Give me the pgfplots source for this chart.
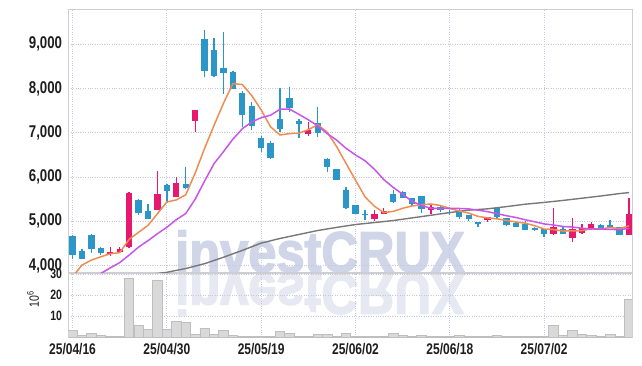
\documentclass[border=0pt]{standalone}
\usepackage{pgfplots}
\pgfplotsset{compat=1.18}
\usepackage{pgfplotstable}
\usepackage{fontspec}
\setmainfont{Liberation Sans}[FakeStretch=0.78]
\newfontfamily\wmfont{Liberation Sans Bold}[FakeStretch=0.88, FakeBold=2.5]
\definecolor{cup}{RGB}{230,25,110}
\definecolor{cdown}{RGB}{45,150,200}
\definecolor{maf}{RGB}{240,140,80}
\definecolor{mam}{RGB}{200,85,235}
\definecolor{mal}{RGB}{120,120,120}
\definecolor{gridc}{RGB}{195,200,222}
\definecolor{wm}{RGB}{208,214,232}
\definecolor{wmr}{RGB}{230,233,242}
\definecolor{volf}{RGB}{217,217,217}
\definecolor{vold}{RGB}{190,190,190}
\definecolor{framec}{RGB}{205,205,210}
\definecolor{labc}{RGB}{30,30,30}

\pgfplotstableread{
i O H L C
0 4664 4693 4150 4227
1 4331 4363 4137 4150
2 4686 4700 4286 4376
3 4392 4415 4227 4272
7 5478 5494 5132 5177
8 5236 5388 5050 5055
10 5824 5850 5410 5688
12 5847 6231 5720 5756
14 9120 9323 8254 8403
15 8871 9136 8267 8290
16 8464 9271 7876 8358
17 8373 8396 7990 7996
18 7905 7950 7123 7408
19 7604 7695 7061 7159
20 6887 6932 6557 6661
21 6767 6806 6399 6435
22 7310 8005 7023 7084
23 7778 8027 7462 7566
24 7258 7310 6874 7204
26 7213 7575 6896 7000
27 6405 6420 6105 6231
28 6179 6190 5930 5937
29 5704 5772 5268 5304
30 5358 5370 5160 5168
31 5168 5245 5026 5132
34 5614 5711 5403 5433
35 5659 5675 5517 5523
36 5523 5530 5342 5394
37 5569 5580 5191 5281
39 5320 5365 5206 5259
40 5215 5252 5139 5180
41 5236 5268 5055 5100
42 5139 5150 5003 5048
43 4980 4985 4861 4942
45 5297 5310 5080 5087
46 5071 5080 4890 4920
47 4958 4987 4870 4874
48 4942 5003 4800 4806
49 4845 4867 4770 4806
50 4829 4835 4641 4716
52 4829 4860 4700 4702
56 4906 4942 4845 4852
57 4906 5019 4845 4852
58 4860 4870 4690 4693
}\down

\pgfplotstableread{
i O H L C
4 4265 4422 4211 4300
5 4309 4408 4300 4363
6 4422 5660 4392 5643
9 5252 6141 5252 5614
11 5553 5991 5540 5869
13 7272 7514 7009 7514
25 6971 7249 6926 7061
32 5048 5245 5003 5155
33 5168 5290 5155 5222
38 5259 5372 5155 5320
44 5033 5100 4987 5094
51 4709 5290 4686 4860
53 4625 5064 4535 4815
54 4738 4935 4702 4838
55 4829 4987 4799 4928
59 4693 5516 4680 5161
}\up

\pgfplotstableread{
i v
0 3745
1 4008
2 4121
3 4196
4 4263
5 4290
6 4589
7 4749
8 4906
9 5170
10 5435
11 5481
12 5596
13 6088
14 6646
15 7166
16 7664
17 8112
18 8091
19 7842
20 7516
21 7132
22 6949
23 6981
24 6990
25 7070
26 7183
27 7012
28 6687
29 6307
30 5928
31 5554
32 5339
33 5196
34 5222
35 5293
36 5345
37 5371
38 5390
39 5355
40 5290
41 5231
42 5184
43 5109
44 5076
45 5054
46 5018
47 4983
48 4956
49 4899
50 4824
51 4812
52 4778
53 4780
54 4786
55 4829
56 4827
57 4857
58 4833
59 4897
}\mafive

\pgfplotstableread{
i v
3 3820
4 3945
5 4064
6 4234
7 4415
8 4560
9 4717
10 4863
11 5035
12 5173
13 5497
14 5908
15 6301
16 6572
17 6854
18 7090
19 7244
20 7341
21 7398
22 7531
23 7536
24 7416
25 7293
26 7157
27 6981
28 6834
29 6648
30 6499
31 6369
32 6176
33 5941
34 5764
35 5611
36 5450
37 5355
38 5293
39 5289
40 5291
41 5288
42 5278
43 5250
44 5216
45 5172
46 5125
47 5084
48 5033
49 4987
50 4939
51 4915
52 4881
53 4868
54 4842
55 4826
56 4820
57 4817
58 4806
59 4842
}\maten

\pgfplotstableread{
i v
8 3790
10 3845
12 3930
14 4040
16 4185
18 4340
20 4505
22 4610
24 4700
26 4790
28 4860
30 4925
32 4970
34 5015
36 5075
38 5135
40 5195
42 5250
44 5280
46 5330
48 5385
50 5425
52 5470
54 5520
56 5570
58 5625
59 5648
}\malong

\pgfplotstableread{
i v
0 3.2
1 0.7
2 2.0
3 0.7
4 0.6
5 0.3
6 28.2
7 5.5
8 3.9
9 26.9
10 3.9
11 7.7
12 7.2
13 1.2
14 4.4
15 1.2
16 3.4
17 0.7
18 0.6
19 0.4
20 0.3
21 0.5
22 2.8
23 2.0
24 0.3
25 0.5
26 1.2
27 1.2
28 0.6
29 2.0
30 0.5
31 0.3
32 0.3
33 0.4
34 2.0
35 0.8
36 0.6
37 0.7
38 0.3
39 0.3
40 0.3
41 0.7
42 0.3
43 0.3
44 0.3
45 0.7
46 0.3
47 0.3
48 0.3
49 0.5
50 0.6
51 5.5
52 0.7
53 3.1
54 1.2
55 0.7
56 0.5
57 1.2
58 0.6
59 17.9
}\vol

\begin{document}
\begin{tikzpicture}
\path[use as bounding box] (0,0) rectangle (642pt,366pt);
% watermark
\node[anchor=base west, inner sep=0pt, text=wm, font=\wmfont\fontsize{57.5}{57.5}\selectfont] at (175pt,94pt) {investCRUX};
\node[anchor=base west, inner sep=0pt, text=wmr, yscale=-1, font=\wmfont\fontsize{57.5}{57.5}\selectfont] at (175pt,92pt) {investCRUX};

\pgfplotsset{
  common/.style={
    scale only axis, width=564pt,
    xmin=-0.45, xmax=59.35,
    xtick={0,10,20,30,40,50},
    grid=major,
    grid style={gridc, dotted, line width=0.9pt},
    major tick length=0pt,
    tick style={draw=none},
    axis line style={framec, line width=0.9pt},
  },
  candle/.style 2 args={draw=none, mark=none, forget plot,
    /pgfplots/error bars/y dir=plus,
    /pgfplots/error bars/y explicit,
    /pgfplots/error bars/error mark=none,
    /pgfplots/error bars/error bar style={draw=#1, line width=#2, line cap=butt}},
}

\begin{axis}[common,
  at={(68.3pt,93.7pt)}, anchor=south west, height=263pt,
  ymin=3845, ymax=9792,
  xticklabels={},
  ytick={4000,5000,6000,7000,8000,9000},
  yticklabels={{4,000},{5,000},{6,000},{7,000},{8,000},{9,000}},
  yticklabel style={font=\bfseries\fontsize{17}{17}\selectfont, text=labc, inner sep=0pt, xshift=-6pt},
]
% wicks
\addplot[candle={cdown}{1.3pt}]
  table[x=i, y=L, y error plus expr={\thisrow{H}-\thisrow{L}}] {\down};
\addplot[candle={cup}{1.3pt}]
  table[x=i, y=L, y error plus expr={\thisrow{H}-\thisrow{L}}] {\up};
% bodies
\addplot[candle={cdown}{6.3pt}]
  table[x=i, y=C, y error plus expr={\thisrow{O}-\thisrow{C}}] {\down};
\addplot[candle={cup}{6.3pt}]
  table[x=i, y=O, y error plus expr={\thisrow{C}-\thisrow{O}}] {\up};
% moving averages
\addplot[mal, line width=1.4pt, mark=none] table[x=i, y=v] {\malong};
\addplot[maf, line width=1.5pt, mark=none] table[x=i, y=v] {\mafive};
\addplot[mam, line width=1.5pt, mark=none] table[x=i, y=v] {\maten};
\end{axis}

\begin{axis}[common,
  at={(68.3pt,28.7pt)}, anchor=south west, height=64pt,
  ymin=0, ymax=30.48,
  xticklabels={25/04/16,25/04/30,25/05/19,25/06/02,25/06/18,25/07/02},
  xticklabel style={font=\bfseries\fontsize{15.4}{15.4}\selectfont, text=labc, inner sep=0pt, yshift=-6pt},
  ytick={10,20,30},
  yticklabels={10,20,30},
  yticklabel style={font=\bfseries\fontsize{13.5}{13.5}\selectfont, text=labc, inner sep=0pt, xshift=-6pt},
]
\addplot[ybar, bar width=9.43pt, bar shift=0pt, fill=volf, draw=vold, line width=0.7pt] table[x=i, y=v] {\vol};
\end{axis}
\node[rotate=90, inner sep=0pt, text=labc, font=\fontsize{13.5}{13.5}\selectfont] at (33pt,67pt) {10\textsuperscript{6}};
\end{tikzpicture}
\end{document}
